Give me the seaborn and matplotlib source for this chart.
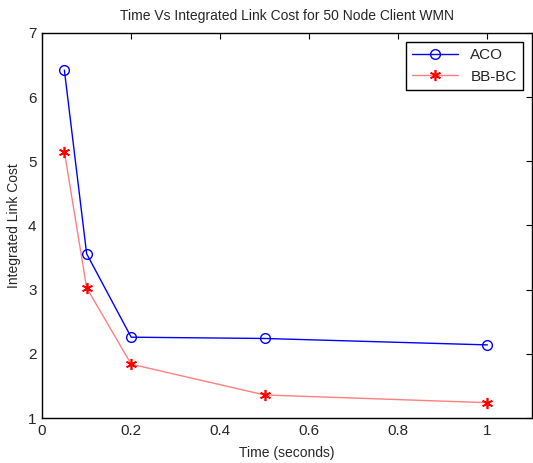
import numpy as np
import pandas as pd
import matplotlib
matplotlib.use('Agg')
import matplotlib.pyplot as plt
import seaborn as sns

# data
time_s = [0.05, 0.1, 0.2, 0.5, 1.0]
aco = [6.42, 3.56, 2.26, 2.24, 2.14]
bbbc = [5.15, 3.03, 1.84, 1.36, 1.24]

sns.set_style('white')
plt.rcParams['font.family'] = ['Liberation Sans', 'DejaVu Sans']

fig = plt.figure(figsize=(5.33, 4.63), dpi=100)
ax = fig.add_axes([0.079, 0.097, 0.919, 0.832])

sns.lineplot(x=time_s, y=aco, ax=ax, color='blue', marker='o', markersize=7,
             markerfacecolor='none', markeredgecolor='blue', markeredgewidth=1,
             linewidth=1, label='ACO')
sns.lineplot(x=time_s, y=bbbc, ax=ax, color='#ff8080', marker=(6, 2, 0), markersize=8,
             markerfacecolor='red', markeredgecolor='red', markeredgewidth=1.2,
             linewidth=1, label='BB-BC')

ax.set_xlim(0, 1.1)
ax.set_ylim(1, 7)
ax.set_xticks([0, 0.2, 0.4, 0.6, 0.8, 1])
ax.set_xticklabels(['0', '0.2', '0.4', '0.6', '0.8', '1'])
ax.set_yticks([1, 2, 3, 4, 5, 6, 7])
ax.tick_params(direction='in', top=True, right=True, length=4, width=0.8,
               labelsize=11, color='black', pad=4)
for s in ax.spines.values():
    s.set_color('black')
    s.set_linewidth(1)

ax.set_title('Time Vs Integrated Link Cost for 50 Node Client WMN', fontsize=10, pad=9)
ax.set_xlabel('Time (seconds)', fontsize=10, labelpad=6)
ax.set_ylabel('Integrated Link Cost', fontsize=10, labelpad=5)

leg = ax.legend(loc='upper right', fontsize=11, fancybox=False, framealpha=1,
                edgecolor='black', handlelength=3, borderaxespad=0.6)
leg.get_frame().set_linewidth(1)

fig.savefig('out.png', dpi=100)
